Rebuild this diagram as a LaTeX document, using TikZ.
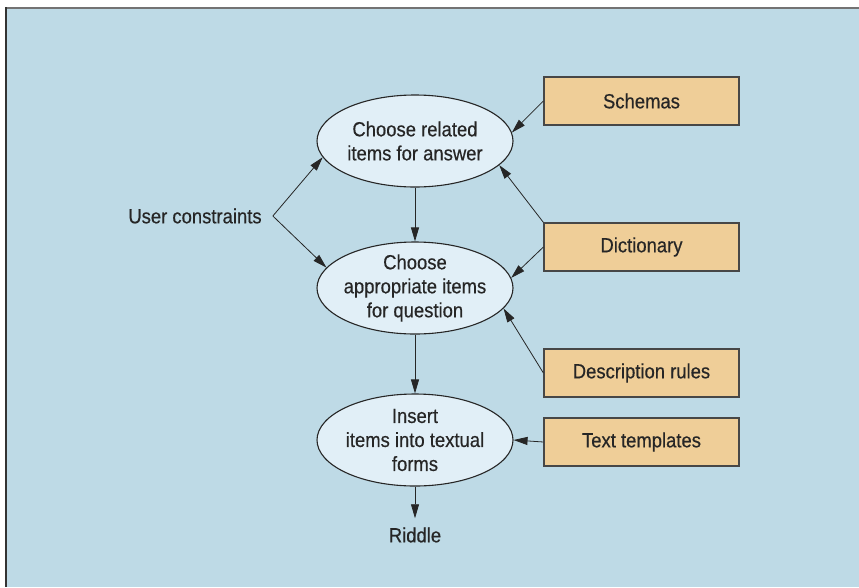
\documentclass[tikz,border=0pt]{standalone}
\usepackage{fontspec}
\setmainfont{Liberation Sans}[FakeStretch=0.9,FakeBold=0.4]
\usetikzlibrary{shapes.geometric,arrows.meta}
\definecolor{bgblue}{HTML}{BEDAE6}
\definecolor{ellfill}{HTML}{E1EFF7}
\definecolor{boxfill}{HTML}{EFCE98}
\definecolor{ink}{HTML}{262626}
\tikzset{
  proc/.style={ellipse, draw=ink, line width=1.1pt, fill=ellfill, minimum width=196pt, minimum height=92pt, inner sep=-8pt, align=center, text=ink, font=\fontsize{20.5}{24}\selectfont},
  srcbox/.style={rectangle, draw=ink!85, line width=1.2pt, fill=boxfill, minimum width=195pt, minimum height=48pt, inner sep=0pt, text=ink, font=\fontsize{20.5}{24}\selectfont},
  plain/.style={text=ink, font=\fontsize{20.5}{24}\selectfont},
  conn/.style={draw=ink, line width=0.8pt, -{Triangle[length=14pt,width=8pt]}}
}
\begin{document}
\begin{tikzpicture}[x=1pt,y=-1pt]
\useasboundingbox (0,0) rectangle (859,587);
\fill[bgblue] (6,8) rectangle (859,587);
\draw[line width=2pt, color=black!55] (5,8) -- (859,8);
\draw[line width=2pt, color=black!80] (6,7) -- (6,587);

\node[proc] (e1) at (415,141) {Choose related\\items for answer};
\node[proc] (e2) at (415,288) {Choose\\appropriate items\\for question};
\node[proc] (e3) at (415,440) {Insert\\items into textual\\forms};
\node[plain, inner sep=9pt] (rid) at (415,535) {Riddle};
\node[plain, inner xsep=11pt] (uc) at (195,216) {User constraints};

\node[srcbox] (sch) at (641.5,101) {Schemas};
\node[srcbox] (dic) at (641.5,247) {Dictionary};
\node[srcbox] (des) at (641.5,373) {Description rules};
\node[srcbox] (tt) at (641.5,442) {Text templates};

\draw[conn] (e1.south) -- (e2.north);
\draw[conn] (e2.south) -- (e3.north);
\draw[conn] (e3.south) -- (rid.north);

\draw[conn] (uc.east) -- (e1.190);
\draw[conn] (uc.east) -- (e2.167);

\draw[conn] (sch.west) -- (e1.5);
\draw[conn] (dic.north west) -- (e1.-16);
\draw[conn] (dic.west) -- (e2.6);
\draw[conn] (des.west) -- (e2.-13);
\draw[conn] (tt.west) -- (e3.east);
\end{tikzpicture}
\end{document}
